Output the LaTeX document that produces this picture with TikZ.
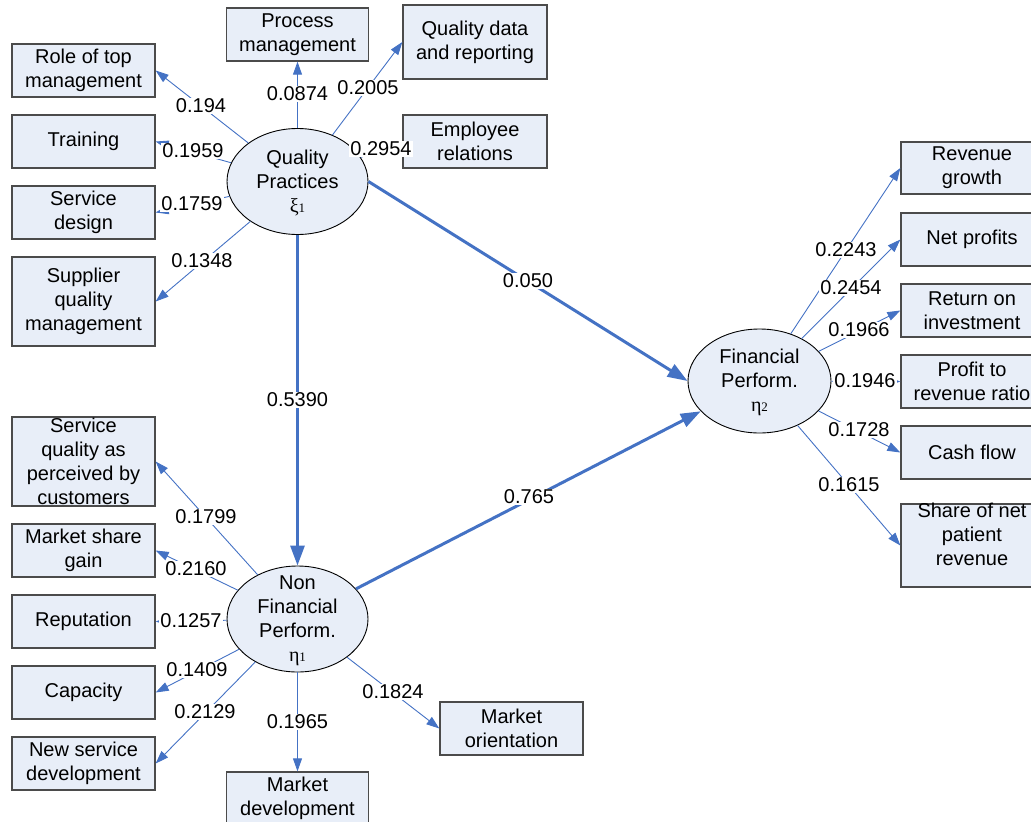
\documentclass[tikz,border=0pt]{standalone}
\usepackage{fontspec}
\setmainfont{Liberation Sans}
\newfontfamily\grk{Liberation Serif}
\usetikzlibrary{arrows.meta,shapes.geometric}
\definecolor{boxfill}{RGB}{232,238,248}
\definecolor{boxline}{RGB}{75,75,75}
\definecolor{linkblue}{RGB}{68,114,196}
\newcommand{\latent}[2]{{\grk #1{\fontsize{13}{13}\selectfont #2}}}

\tikzset{
  every node/.style={font=\fontsize{20}{24}\selectfont},
  indicator/.style={draw=boxline, line width=1.3pt, fill=boxfill,
    minimum width=143pt, minimum height=53pt, inner sep=0pt, align=center},
  tallbox/.style={indicator, minimum height=89pt},
  construct/.style={ellipse, draw=black, line width=0.9pt, fill=boxfill,
    minimum width=141pt, minimum height=106pt, inner sep=0pt},
  loading/.style={draw=linkblue, line width=0.9pt, -{Triangle[length=13pt,width=9pt]}},
  structural/.style={draw=linkblue, line width=3pt, -{Triangle[length=20pt,width=14pt]}},
  coef/.style={fill=white, inner sep=1pt},
  ctext/.style={align=center, inner sep=0pt}
}

\begin{document}
\begin{tikzpicture}[x=1pt,y=-1pt]
\useasboundingbox (0,0) rectangle (1031,822);

% indicators of Quality Practices
\node[indicator] (role)     at (83.5,70.5)  {Role of top\\management};
\node[indicator] (training) at (83.5,141.5) {Training};
\node[indicator] (sdesign)  at (83.5,212.5) {Service\\design};
\node[tallbox]   (supplier) at (83.5,301.5) {Supplier\\quality\\management};
\node[indicator, minimum width=142pt] (process) at (297.5,34.5) {Process\\management};
\node[indicator, minimum width=144pt, minimum height=74pt] (qdata) at (475,42) {Quality data\\and reporting};
\node[indicator, minimum width=144pt] (employee) at (475,141.5) {Employee\\relations};

% indicators of Non Financial Performance
\node[tallbox]   (svcq)    at (83.5,461.5) {Service\\quality as\\perceived by\\customers};
\node[indicator] (mshare)  at (83.5,550.5) {Market share\\gain};
\node[indicator] (reput)   at (83.5,621.5) {Reputation};
\node[indicator] (capac)   at (83.5,692.5) {Capacity};
\node[indicator] (newsvc)  at (83.5,763.5) {New service\\development};
\node[indicator, minimum width=142pt] (mdev) at (297.5,798.5) {Market\\development};
\node[indicator] (morient) at (511.5,728.5) {Market\\orientation};

% indicators of Financial Performance
\node[indicator, minimum width=142pt, minimum height=52pt] (revg) at (972,168) {Revenue\\growth};
\node[indicator, minimum width=142pt] (netp)   at (972,239.5) {Net profits};
\node[indicator, minimum width=142pt] (roi)    at (972,310.5) {Return on\\investment};
\node[indicator, minimum width=142pt] (pratio) at (972,381.5) {Profit to\\revenue ratio};
\node[indicator, minimum width=142pt] (cash)   at (972,452.5) {Cash flow};
\node[indicator, minimum width=142pt, minimum height=83pt] (share) at (972,545.5) {};
\node[ctext] at ([yshift=11.5pt]share.center) {Share of net\\patient\\revenue};

% latent constructs
\node[construct] (qp)  at (297.5,181.5) {};
\node[construct] (nfp) at (297.5,619) {};
\node[construct, minimum width=143pt, minimum height=104pt] (fp) at (759.5,381) {};

% structural paths
\draw[structural] (qp.east) -- (fp.west);
\draw[structural] (qp) -- (nfp);
\draw[structural] (nfp) -- (fp);

% measurement loadings
\draw[loading] (qp) -- (role.east);
\draw[loading] (qp) -- (training.east);
\draw[loading] (qp) -- (sdesign.east);
\draw[loading] (qp) -- (supplier.east);
\draw[loading] (qp) -- (process.south);
\draw[loading] (qp) -- (qdata.west);
\draw[loading] (qp) -- (employee.west);

\draw[loading] (nfp) -- (svcq.east);
\draw[loading] (nfp) -- (mshare.east);
\draw[loading] (nfp) -- (reput.east);
\draw[loading] (nfp) -- (capac.east);
\draw[loading] (nfp) -- (newsvc.east);
\draw[loading] (nfp) -- (mdev.north);
\draw[loading] (nfp) -- (morient.west);

\draw[loading] (fp) -- (revg.west);
\draw[loading] (fp) -- (netp.west);
\draw[loading] (fp) -- (roi.west);
\draw[loading] (fp) -- (pratio.west);
\draw[loading] (fp) -- (cash.west);
\draw[loading] (fp) -- (share.west);

% coefficients
\node[coef] (c01) at (201,106) {0.194};
\node[coef] (c02) at (193,151) {0.1959};
\node[coef] (c03) at (192,204) {0.1759};
\node[coef] (c04) at (202,261) {0.1348};
\node[coef] (c05) at (297.5,94) {0.0874};
\node[coef] (c06) at (368,88) {0.2005};
\node[coef] (c07) at (381,149) {0.2954};
\node[coef] (c08) at (528,281) {0.050};
\node[coef] (c09) at (297.5,400) {0.5390};
\node[coef] (c10) at (529,497) {0.765};

\node[coef] (c11) at (206,517) {0.1799};
\node[coef] (c12) at (196,569) {0.2160};
\node[coef] (c13) at (191,621) {0.1257};
\node[coef] (c14) at (197,670) {0.1409};
\node[coef] (c15) at (205,712) {0.2129};
\node[coef] (c16) at (297.5,722) {0.1965};
\node[coef] (c17) at (393,692) {0.1824};

\node[coef] (c18) at (846,250) {0.2243};
\node[coef] (c19) at (851,288) {0.2454};
\node[coef] (c20) at (859,330) {0.1966};
\node[coef] (c21) at (865,381) {0.1946};
\node[coef] (c22) at (859,430) {0.1728};
\node[coef] (c23) at (849,485) {0.1615};

% construct names
\node[ctext] at ([yshift=-2pt]qp.center)  {Quality\\Practices\\\latent{ξ}{1}};
\node[ctext] at ([yshift=-1.5pt]nfp.center) {Non\\Financial\\Perform.\\\latent{η}{1}};
\node[ctext] at ([yshift=-1pt]fp.center) {Financial\\Perform.\\\latent{η}{2}};
\end{tikzpicture}
\end{document}
